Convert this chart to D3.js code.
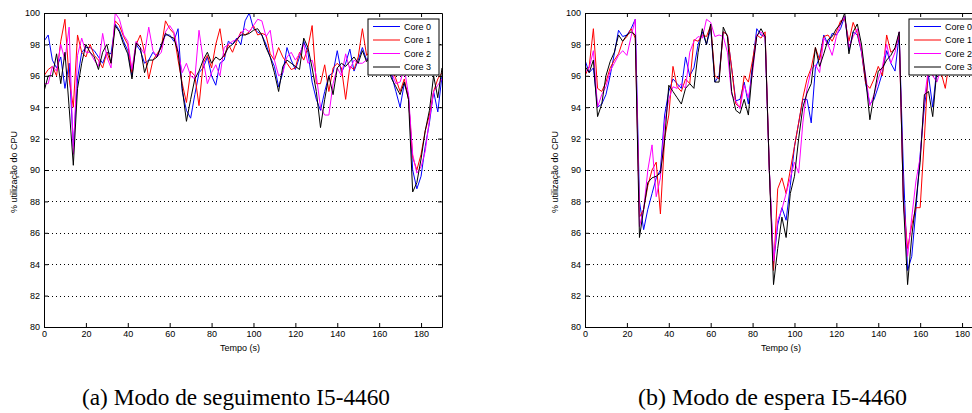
<!DOCTYPE html>
<html>
<head>
<meta charset="utf-8">
<script type="text/javascript" src="https://cdn.jsdelivr.net/npm/d3@7/dist/d3.min.js"></script>
<style>
    body { margin: 0; background: #fff; }
    .axis text { font-family: "Liberation Sans", Arial, sans-serif; font-size: 9px; fill: #000; }
    .axis line, .axis path { stroke: #000; }
    .lbl { font-family: "Liberation Sans", Arial, sans-serif; font-size: 9px; fill: #000; }
    .cap { font-family: "Liberation Serif", "Times New Roman", serif; font-size: 23px; fill: #000; }
</style>
</head>
<body>
<div id="chart"></div>

<script type="text/javascript">
    // sampling instants (s)
    var tempo = [0,2,4,6,8,10,12,14,16,18,20,22,24,26,28,30,32,34,36,38,40,42,44,46,48,50,52,54,56,58,
        60,62,64,66,68,70,72,74,76,78,80,82,84,86,88,90,92,94,96,98,100,102,104,106,108,110,112,114,116,118,
        120,122,124,126,128,130,132,134,136,138,140,142,144,146,148,150,152,154,156,158,160,162,164,166,168,170,172,174,176,178,
        180,182,184,186,188,190];

    var cores = ["Core 0", "Core 1", "Core 2", "Core 3"];
    var coreColors = ["#0000ff", "#ff0000", "#ff00ff", "#000000"];
    var xTicks = [0, 20, 40, 60, 80, 100, 120, 140, 160, 180];
    var yTicks = [80, 82, 84, 86, 88, 90, 92, 94, 96, 98, 100];
    var captions = ["(a)  Modo de seguimento I5-4460", "(b)  Modo de espera I5-4460"];

    // (a) modo de seguimento
    var segCore0 = [98.2,98.6,97.0,96.5,97.2,95.2,96.8,91.5,95.8,97.5,97.8,97.8,97.6,97.2,96.8,97.5,97.4,99.3,98.9,98.2,
        97.6,96.0,98.0,97.6,96.8,97.0,97.5,97.2,98.0,98.6,98.6,98.2,99.0,95.0,93.8,93.3,94.8,96.2,96.5,97.2,
        96.0,95.4,96.8,97.0,98.2,98.0,98.4,98.0,99.5,100.0,99.0,98.8,98.6,98.0,97.2,96.6,95.3,96.2,97.8,97.0,
        96.4,97.2,98.2,97.5,95.6,94.5,93.8,95.0,96.0,96.2,97.6,96.2,96.8,97.7,96.3,97.0,97.8,97.0,97.4,97.8,
        97.5,97.0,96.5,96.0,95.0,94.0,95.5,94.8,90.0,88.8,89.6,91.5,93.0,95.0,93.7,96.0];
    var segCore1 = [96.0,96.4,96.6,96.0,98.2,99.6,95.8,94.0,98.6,97.5,97.2,98.0,97.3,97.0,96.5,97.5,96.8,99.5,99.2,98.5,
        98.0,96.2,98.0,98.6,97.5,95.8,97.0,97.4,97.8,99.5,99.0,98.7,97.0,95.5,94.3,96.3,96.0,94.1,96.8,97.3,
        96.5,98.0,99.0,97.2,98.0,97.5,98.2,98.8,98.6,98.8,99.2,98.6,98.7,98.6,97.4,97.0,97.8,97.2,96.8,96.4,
        96.5,97.5,97.0,97.8,99.2,95.5,95.5,96.7,95.0,96.5,96.8,96.5,94.5,96.6,96.4,97.2,99.0,97.3,97.6,97.2,
        97.8,97.4,97.0,96.5,95.8,95.0,95.8,94.5,90.8,90.0,91.0,92.5,93.5,95.0,95.8,96.2];
    var segCore2 = [95.5,95.5,96.6,96.3,98.0,97.0,99.1,91.0,97.3,98.4,97.5,97.5,97.0,96.6,98.7,97.2,96.5,100.0,99.6,98.6,
        98.2,96.4,98.2,97.8,97.4,99.1,97.6,97.2,97.5,98.8,99.2,98.8,97.6,96.2,96.8,96.0,95.8,98.9,97.0,95.5,
        96.2,96.7,96.0,97.8,98.0,98.2,98.3,98.7,99.0,98.8,99.2,99.6,99.5,98.5,98.9,97.0,96.0,96.2,97.2,97.5,
        97.0,97.4,98.0,96.8,97.0,96.0,94.0,93.5,93.5,95.5,96.5,96.0,97.4,96.4,97.0,96.8,96.8,97.0,97.3,97.5,
        97.2,97.0,96.6,96.2,95.5,95.6,96.5,94.8,91.0,89.8,90.2,91.2,93.2,95.0,95.4,95.8];
    var segCore3 = [95.0,96.0,96.0,97.4,95.5,97.5,94.0,90.3,95.2,96.8,98.0,97.5,97.2,96.4,97.5,98.0,96.8,99.2,98.8,98.0,
        97.4,95.8,98.1,97.8,96.2,97.0,97.0,97.2,97.9,98.7,98.5,98.4,97.5,95.2,93.1,94.5,95.8,96.3,97.0,97.5,
        96.8,97.2,97.0,97.3,97.8,98.0,98.3,98.6,98.6,98.7,98.9,99.0,98.6,97.8,97.2,96.2,95.0,96.6,97.0,96.8,
        96.6,96.4,98.4,97.8,96.5,95.0,92.7,94.5,96.0,94.8,96.5,96.8,96.6,96.9,97.2,96.8,97.6,96.9,97.3,97.5,
        97.2,96.8,96.5,95.8,95.3,94.8,95.6,94.5,88.6,89.2,90.7,92.5,93.8,96.0,94.6,96.5];

    // (b) modo de espera
    var espCore0 = [97.0,96.2,96.5,94.0,94.2,94.8,96.0,97.4,98.9,98.5,98.6,99.0,99.6,88.0,86.2,87.5,88.5,89.5,90.0,93.5,
        95.0,95.8,95.5,95.2,97.2,96.0,96.5,98.0,98.8,98.0,99.0,95.6,96.0,98.8,98.6,96.5,94.4,94.5,95.6,94.2,
        96.8,99.0,98.6,98.5,90.0,84.0,86.5,87.6,86.8,89.0,91.5,93.0,94.5,94.5,93.0,96.5,97.2,98.6,98.0,98.7,
        98.6,99.0,99.8,97.6,98.8,98.6,97.5,95.5,94.2,94.5,95.3,96.2,97.6,96.8,96.3,98.6,90.0,83.6,84.5,87.5,
        91.0,94.0,96.0,94.0,96.5,97.5,97.8,98.0,98.2,98.4,98.5,98.6,98.8,98.8,99.0,99.0];
    var espCore1 = [96.0,96.6,99.0,95.2,95.0,95.6,96.5,97.0,97.4,98.2,98.5,99.0,98.4,87.0,87.5,89.0,90.0,90.5,87.2,92.0,
        93.5,96.6,95.3,95.0,95.8,95.5,98.3,98.2,98.6,98.5,99.2,96.0,95.8,98.8,98.6,96.5,94.2,94.0,96.0,95.6,
        97.0,98.6,98.4,98.8,90.0,83.6,88.8,89.5,88.5,90.0,91.5,93.0,94.6,95.8,96.5,97.8,97.0,98.5,98.6,98.2,
        98.8,99.5,99.6,98.2,99.4,98.7,97.6,95.5,95.2,95.8,96.6,96.0,98.6,97.5,97.7,98.6,88.0,85.0,86.5,87.6,
        87.6,92.0,96.8,96.0,97.0,96.2,95.2,97.0,97.8,98.0,98.2,98.4,98.5,98.6,98.6,98.8];
    var espCore2 = [96.2,96.5,97.6,94.0,94.8,95.3,96.3,96.8,97.3,97.6,97.3,98.5,99.6,86.4,87.5,90.0,91.6,88.3,89.5,93.0,
        94.5,95.3,95.2,95.5,95.2,97.5,98.2,98.5,98.4,99.6,99.4,98.5,98.6,98.5,97.5,94.8,94.4,93.9,95.4,94.6,
        96.2,98.6,98.8,98.4,90.0,84.2,86.8,87.5,88.5,89.5,90.5,89.8,93.0,95.2,96.4,96.7,96.2,98.4,98.0,97.3,
        98.5,99.3,99.8,97.8,98.5,99.0,97.6,96.0,94.1,94.8,95.8,96.6,98.0,96.8,97.5,98.8,88.0,84.5,87.0,89.3,
        90.8,94.5,96.5,96.0,95.6,96.5,96.6,97.2,97.6,97.9,98.0,98.2,98.4,98.5,98.6,98.8];
    var espCore3 = [96.6,96.2,97.0,93.4,94.2,96.0,96.9,97.5,98.6,98.2,98.6,98.8,98.6,85.7,87.5,89.2,89.5,89.6,89.8,91.9,
        95.4,95.0,94.6,94.2,95.2,95.5,95.2,97.5,99.0,98.0,99.3,95.6,95.6,99.1,98.5,95.0,93.8,93.6,94.5,93.5,
        96.5,98.5,99.0,98.5,90.0,82.7,85.0,87.0,85.7,88.5,89.6,92.0,94.0,94.9,95.5,97.8,96.6,97.4,98.3,98.5,
        99.0,99.3,100.0,97.4,98.8,99.3,98.0,95.8,93.2,94.8,96.3,96.5,97.0,97.3,97.8,98.8,88.0,82.7,85.8,88.0,
        90.5,94.8,95.0,93.4,96.4,96.8,97.2,97.5,97.8,98.0,98.2,98.4,98.5,98.6,98.6,98.8];

    var W = 972, H = 413;
    var plotW = 398, plotH = 314;

    var svg = d3.select("#chart").append("svg")
        .attr("width", W)
        .attr("height", H);

    svg.append("rect").attr("width", W).attr("height", H).attr("fill", "#fff");

    function drawPanel(ox, series, idx) {
        var x = d3.scaleLinear().domain([0, 190]).range([0, plotW]);
        var y = d3.scaleLinear().domain([80, 100]).range([plotH, 0]);

        var g = svg.append("g").attr("transform", "translate(" + ox + ",13)");

        g.append("clipPath").attr("id", "clip" + idx)
            .append("rect").attr("width", plotW).attr("height", plotH);

        // dotted grid (horizontal only)
        g.append("g").selectAll("line")
            .data(yTicks.filter(function (d) { return d > 80 && d < 100; }))
            .join("line")
            .attr("x1", 0).attr("x2", plotW)
            .attr("y1", function (d) { return Math.round(y(d)) + 0.5; })
            .attr("y2", function (d) { return Math.round(y(d)) + 0.5; })
            .attr("stroke", "#000")
            .attr("stroke-dasharray", "1,3");

        var line = d3.line()
            .x(function (d, i) { return x(tempo[i]); })
            .y(function (d) { return y(d); });

        g.append("g").attr("clip-path", "url(#clip" + idx + ")")
            .selectAll("path")
            .data(series)
            .join("path")
            .attr("d", line)
            .attr("fill", "none")
            .attr("stroke", function (d, i) { return coreColors[i]; })
            .attr("stroke-width", 1);

        // axes, MATLAB style ticks pointing inward
        g.append("g").attr("class", "axis")
            .attr("transform", "translate(0," + plotH + ")")
            .call(d3.axisBottom(x).tickValues(xTicks).tickSizeInner(-4).tickSizeOuter(0).tickPadding(4));
        g.append("g").attr("class", "axis")
            .call(d3.axisTop(x).tickValues(xTicks).tickSizeInner(-4).tickSizeOuter(0).tickFormat(""));
        g.append("g").attr("class", "axis")
            .call(d3.axisLeft(y).tickValues(yTicks).tickSizeInner(-4).tickSizeOuter(0).tickPadding(4));
        g.append("g").attr("class", "axis")
            .attr("transform", "translate(" + plotW + ",0)")
            .call(d3.axisRight(y).tickValues(yTicks).tickSizeInner(-4).tickSizeOuter(0).tickFormat(""));

        g.append("text").attr("class", "lbl")
            .attr("x", plotW / 2 - 3).attr("y", plotH + 24)
            .attr("text-anchor", "middle")
            .text("Tempo (s)");

        g.append("text").attr("class", "lbl")
            .attr("transform", "translate(-27," + (plotH / 2 + 2) + ") rotate(-90)")
            .attr("text-anchor", "middle")
            .text("% utilização do CPU");

        // legend
        var lg = g.append("g").attr("transform", "translate(" + (plotW - 74) + ",6)");
        lg.append("rect")
            .attr("width", 71).attr("height", 56)
            .attr("fill", "#fff").attr("stroke", "#000");
        cores.forEach(function (name, i) {
            var ly = 7.5 + i * 13.5;
            lg.append("line")
                .attr("x1", 5).attr("x2", 32)
                .attr("y1", ly).attr("y2", ly)
                .attr("stroke", coreColors[i]);
            lg.append("text").attr("class", "lbl")
                .attr("x", 36).attr("y", ly + 3.3)
                .text(name);
        });
    }

    drawPanel(44, [segCore0, segCore1, segCore2, segCore3], 0);
    drawPanel(585, [espCore0, espCore1, espCore2, espCore3], 1);

    svg.append("text").attr("class", "cap")
        .attr("x", 82).attr("y", 405)
        .attr("textLength", 308).attr("lengthAdjust", "spacingAndGlyphs")
        .text(captions[0]);
    svg.append("text").attr("class", "cap")
        .attr("x", 638).attr("y", 405)
        .attr("textLength", 269).attr("lengthAdjust", "spacingAndGlyphs")
        .text(captions[1]);
</script>
</body>
</html>
